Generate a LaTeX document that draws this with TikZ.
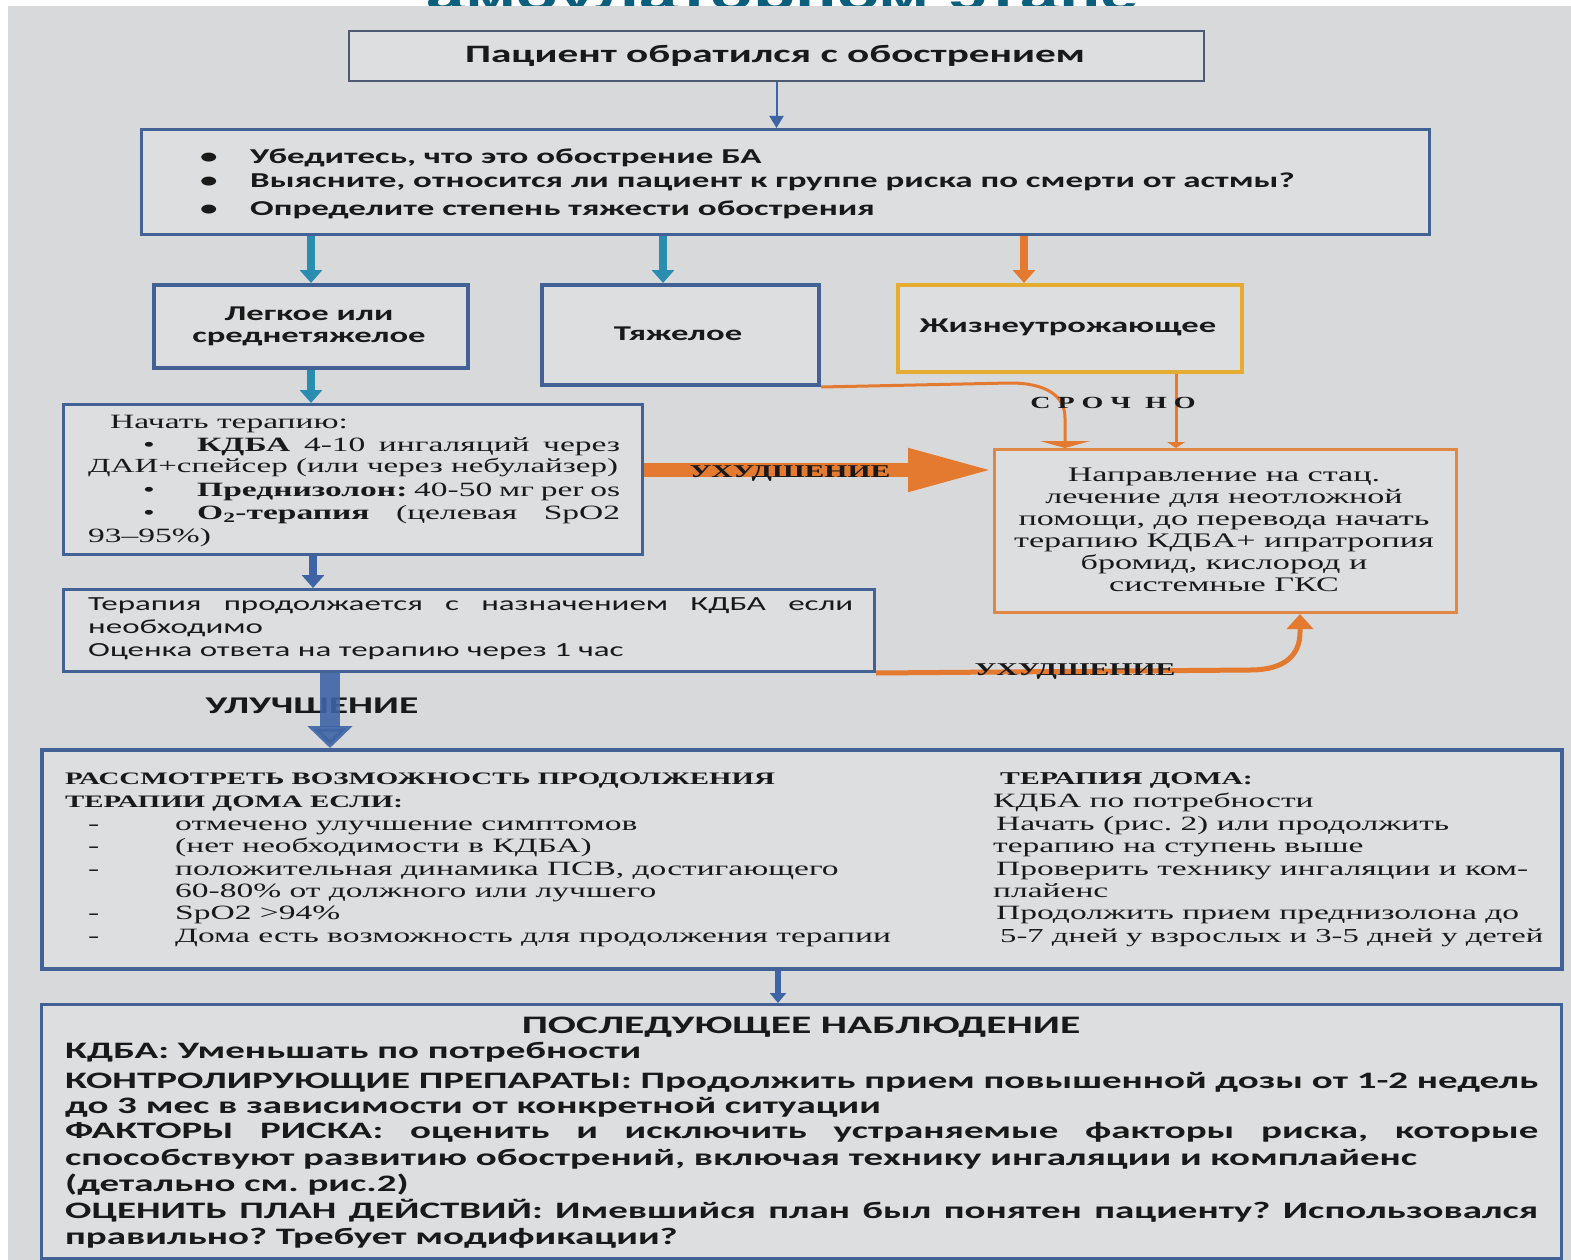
\documentclass[tikz,border=0pt]{standalone}
\usepackage{fontspec}
\setmainfont{Carlito}
\newfontfamily\calf[FakeStretch=1.65]{Carlito}
\newfontfamily\serf[FakeStretch=1.65]{Liberation Serif}
\newfontfamily\titf[FakeStretch=1.65]{Liberation Sans}
\usetikzlibrary{arrows.meta}
\newcommand\fs[1]{\fontsize{#1}{#1}\selectfont}
\frenchspacing
\definecolor{bg}{RGB}{216,217,218}
\definecolor{boxfill}{RGB}{221,222,223}
\definecolor{boxblue}{RGB}{66,98,150}
\definecolor{darkbox}{RGB}{78,90,112}
\definecolor{tealA}{RGB}{42,140,175}
\definecolor{orangeA}{RGB}{228,122,48}
\definecolor{orangeB}{RGB}{225,135,70}
\definecolor{yelB}{RGB}{228,172,48}
\definecolor{arrblue}{RGB}{62,100,165}
\definecolor{titteal}{RGB}{10,95,125}
\definecolor{txt}{RGB}{25,25,25}
\tikzset{
  bx/.style={draw=boxblue, line width=3pt, fill=boxfill, inner sep=0pt, anchor=north west},
  lt/.style={inner sep=0pt, anchor=base west, text=txt},
  ct/.style={inner sep=0pt, anchor=base, text=txt},
  thinarr/.style={line width=2pt, draw=arrblue, -{Triangle[width=14pt,length=12pt]}},
  tealarr/.style={line width=8pt, draw=tealA, -{Triangle[width=22pt,length=13pt]}},
  bluearr/.style={line width=8pt, draw=arrblue, -{Triangle[width=22pt,length=13pt]}},
  orarr/.style={line width=8pt, draw=orangeA, -{Triangle[width=22pt,length=13pt]}},
  orline/.style={line width=3pt, draw=orangeA},
  cb/.style={font=\calf\bfseries\fs{21.2}},
  cb21/.style={font=\calf\bfseries\fs{21}},
  cr/.style={font=\calf\fs{20}},
  sr/.style={font=\serf\fs{20.3}},
  sra/.style={font=\serf\fs{20.7}},
  sb/.style={font=\serf\bfseries\fs{18}},
  sbh/.style={font=\serf\bfseries\fs{17.5}},
  pb/.style={font=\calf\bfseries\fs{23.6}},
}
\begin{document}
\begin{tikzpicture}[x=1pt,y=-1pt]
\useasboundingbox (0,0) rectangle (1571,1260);
\fill[white] (0,0) rectangle (1571,1260);
\node[inner sep=0pt, anchor=base, text=titteal, font=\titf\bfseries\fs{42}] (title) at (783,10) {амбулаторном этапе};
\fill[bg] (8,6) rectangle (1571,1260);

% boxes
\node[bx, draw=darkbox, line width=2pt, minimum width=855pt, minimum height=50pt] (p) at (348,30) {};
\node[bx, minimum width=1288pt, minimum height=105pt] (b2) at (140,128) {};
\node[bx, line width=4pt, minimum width=314pt, minimum height=83pt] (leg) at (152,283) {};
\node[bx, line width=4pt, minimum width=277pt, minimum height=100pt] (tyaz) at (540,283) {};
\node[bx, draw=yelB, line width=4pt, minimum width=344pt, minimum height=87pt] (zhiz) at (896,283) {};
\node[bx, minimum width=579pt, minimum height=150pt] (nach) at (62,403) {};
\node[bx, minimum width=811pt, minimum height=82pt] (terap) at (62,588) {};
\node[bx, draw=orangeB, minimum width=462pt, minimum height=163pt] (napr) at (993,448) {};
\node[bx, line width=4pt, minimum width=1520pt, minimum height=219pt] (rass) at (40,748) {};
\node[bx, minimum width=1520pt, minimum height=254pt] (posl) at (40,1003) {};

% coordinates for connector positions
\coordinate (xa) at (663,0);
\coordinate (xb) at (1024,0);
\coordinate (xc) at (1065,0);
\coordinate (xd) at (1176,0);
\coordinate (xe) at (1300,0);
\coordinate (xf) at (330,0);
\coordinate (xg) at (778,0);
\coordinate (xh) at (313,0);
\coordinate (ya) at (0,470);

% texts
\node[ct, font=\calf\bfseries\fs{25}] (pt) at (775,63) {Пациент обратился с обострением};

\node[lt, cb] (b2d1) at (200,164) {•};
\node[lt, cb] (b2d2) at (200,188) {•};
\node[lt, cb] (b2d3) at (200,215) {•};
\node[lt, cb] (b2t1) at (250,164) {Убедитесь, что это обострение БА};
\node[lt, cb] (b2t2) at (250,188) {Выясните, относится ли пациент к группе риска по смерти от астмы?};
\node[lt, cb] (b2t3) at (250,215) {Определите степень тяжести обострения};

\node[ct, cb21] (legt1) at (309,320) {Легкое или};
\node[ct, cb21] (legt2) at (309,342) {среднетяжелое};
\node[ct, cb21] (tyazt) at (678,340) {Тяжелое};
\node[ct, cb21] (zhizt) at (1068,332) {Жизнеутрожающее};

\node[lt, sr] (n1) at (110,428) {Начать терапию:};
\node[lt, sr] (n2d) at (143,451) {•};
\node[lt, sr] (n2) at (197,451) {\makebox[423pt][s]{\textbf{КДБА} 4-10 ингаляций через}};
\node[lt, font=\serf\fs{20}] (n3) at (88,472) {ДАИ+спейсер (или через небулайзер)};
\node[lt, sr] (n4d) at (143,496) {•};
\node[lt, sr] (n4) at (197,496) {\makebox[423pt][s]{\textbf{Преднизолон:} 40-50 мг per os}};
\node[lt, sr] (n5d) at (143,519) {•};
\node[lt, sr] (n5) at (197,519) {\makebox[423pt][s]{\textbf{O\textsubscript{2}-терапия} (целевая SpO2}};
\node[lt, sr] (n6) at (88,542) {93–95\%)};

\node[lt, cr] (t1) at (88,610) {\makebox[765pt][s]{Терапия продолжается с назначением КДБА если}};
\node[lt, cr] (t2) at (88,633) {необходимо};
\node[lt, cr] (t3) at (88,656) {Оценка ответа на терапию через 1 час};

\node[ct, sra] (a1) at (1224,481) {Направление на стац.};
\node[ct, sra] (a2) at (1224,503) {лечение для неотложной};
\node[ct, sra] (a3) at (1224,525) {помощи, до перевода начать};
\node[ct, sra] (a4) at (1224,547) {терапию КДБА+ ипратропия};
\node[ct, sra] (a5) at (1224,569) {бромид, кислород и};
\node[ct, sra] (a6) at (1224,591) {системные ГКС};

\node[lt, sbh] (r1) at (65,784) {РАССМОТРЕТЬ ВОЗМОЖНОСТЬ ПРОДОЛЖЕНИЯ};
\node[lt, sbh] (r2) at (65,807) {ТЕРАПИИ ДОМА ЕСЛИ:};
\node[lt, sr] (r3d) at (88,830) {-};
\node[lt, sr] (r3) at (175,830) {отмечено улучшение симптомов};
\node[lt, sr] (r4d) at (88,852) {-};
\node[lt, sr] (r4) at (175,852) {(нет необходимости в КДБА)};
\node[lt, sr] (r5d) at (88,875) {-};
\node[lt, sr] (r5) at (175,875) {положительная динамика ПСВ, достигающего};
\node[lt, sr] (r6) at (175,897) {60-80\% от должного или лучшего};
\node[lt, sr] (r7d) at (88,919) {-};
\node[lt, sr] (r7) at (175,919) {SpO2 >94\%};
\node[lt, sr] (r8d) at (88,942) {-};
\node[lt, sr] (r8) at (175,942) {Дома есть возможность для продолжения терапии};

\node[lt, sb] (s1) at (1000,784) {ТЕРАПИЯ ДОМА:};
\node[lt, sr] (s2) at (993,807) {КДБА по потребности};
\node[lt, sr] (s3) at (996,830) {Начать (рис. 2) или продолжить};
\node[lt, sr] (s4) at (993,852) {терапию на ступень выше};
\node[lt, sr] (s5) at (996,875) {Проверить технику ингаляции и ком-};
\node[lt, sr] (s6) at (993,897) {плайенс};
\node[lt, sr] (s7) at (996,919) {Продолжить прием преднизолона до};
\node[lt, font=\serf\fs{19.8}] (s8) at (1000,942) {5-7 дней у взрослых и 3-5 дней у детей};

\node[ct, font=\calf\bfseries\fs{25.2}] (q0) at (801,1033) {ПОСЛЕДУЮЩЕЕ НАБЛЮДЕНИЕ};
\node[lt, pb] (q1) at (65,1058) {КДБА: Уменьшать по потребности};
\node[lt, pb] (q2) at (65,1088) {\makebox[1473pt][s]{КОНТРОЛИРУЮЩИЕ ПРЕПАРАТЫ: Продолжить прием повышенной дозы от 1-2 недель}};
\node[lt, pb] (q3) at (65,1113) {до 3 мес в зависимости от конкретной ситуации};
\node[lt, pb] (q4) at (65,1138) {\makebox[1473pt][s]{ФАКТОРЫ РИСКА: оценить и исключить устраняемые факторы риска, которые}};
\node[lt, pb] (q5) at (65,1165) {способствуют развитию обострений, включая технику ингаляции и комплайенс};
\node[lt, pb] (q6) at (65,1191) {(детально см. рис.2)};
\node[lt, pb] (q7) at (65,1218) {\makebox[1473pt][s]{ОЦЕНИТЬ ПЛАН ДЕЙСТВИЙ: Имевшийся план был понятен пациенту? Использовался}};
\node[lt, pb] (q8) at (65,1244) {правильно? Требует модификации?};

% connectors
\draw[thinarr] (p.south) -- (b2.north -| p.south);
\draw[tealarr] (b2.south -| leg.north) -- (leg.north);
\draw[tealarr] (b2.south -| xa) -- (tyaz.north -| xa);
\draw[orarr] (b2.south -| xb) -- (zhiz.north -| xb);
\draw[tealarr] (leg.south) -- (leg.south |- nach.north);
\draw[bluearr] (nach.south -| xh) -- (terap.north -| xh);
\draw[line width=14pt, draw=orangeA, -{Triangle[width=40pt,length=85pt]}] (nach.east |- ya) -- (napr.west |- ya);
\draw[orline, -{Triangle[width=50pt,length=7pt]}] (tyaz.south east) -- (1010,383) .. controls (1045,383) and (1065,395) .. (1065,418) -- (napr.north -| xc);
\draw[orline, -{Triangle[width=18pt,length=6pt]}] (zhiz.south -| xd) -- (napr.north -| xd);
\draw[line width=5pt, draw=orangeA, -{Triangle[width=26pt,length=15pt]}] (terap.south east) -- (1250,670) .. controls (1285,670) and (1300,655) .. (1300,632) -- (napr.south -| xe);
\node[ct, font=\calf\bfseries\fs{24}] (ul) at (312,713) {УЛУЧШЕНИЕ};
\draw[line width=20pt, draw=arrblue, opacity=0.9, -{Triangle[width=44pt,length=22pt]}] (terap.south -| xf) -- (rass.north -| xf);
\draw[line width=6pt, draw=arrblue, -{Triangle[width=16pt,length=10pt]}] (rass.south -| xg) -- (posl.north -| xg);

\node[ct, sb] (uh1) at (790,477) {УХУДШЕНИЕ};
\node[ct, sb] (uh2) at (1075,675) {УХУДШЕНИЕ};
\node[ct, font=\serf\bfseries\fs{17}] (sroch) at (1113,408) {С\hspace{7pt}Р\hspace{7pt}О\hspace{7pt}Ч\hspace{14pt}Н\hspace{7pt}О};
\end{tikzpicture}
\end{document}
